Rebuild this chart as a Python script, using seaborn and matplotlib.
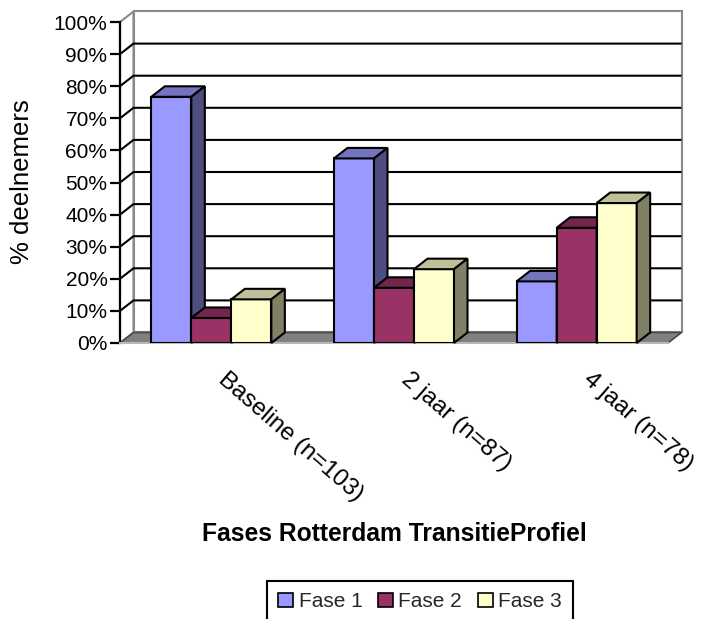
import numpy as np
import pandas as pd
import matplotlib
matplotlib.use("Agg")
import matplotlib.pyplot as plt
import matplotlib.colors as mcolors
from matplotlib.patches import Polygon, Patch
from matplotlib.transforms import ScaledTranslation
import seaborn as sns

# Percentage of participants per phase, per measurement moment
metingen = ["Baseline (n=103)", "2 jaar (n=87)", "4 jaar (n=78)"]
fases = ["Fase 1", "Fase 2", "Fase 3"]
fase1 = [76.7, 57.5, 19.2]
fase2 = [7.8, 17.2, 35.9]
fase3 = [13.6, 23.0, 43.6]
y_ticks = list(range(0, 101, 10))
y_tick_labels = [f"{v}%" for v in y_ticks]

front_colors = ["#9999FF", "#993366", "#FFFFCC"]

df = pd.DataFrame({
    "meting": metingen * 3,
    "fase": np.repeat(fases, len(metingen)),
    "pct": fase1 + fase2 + fase3,
})

sns.set_theme(style="white")
plt.rcParams["font.family"] = ["Liberation Sans", "DejaVu Sans"]

W, H, DPI = 702, 619, 100
fig = plt.figure(figsize=(W / DPI, H / DPI), dpi=DPI)
fig.patch.set_facecolor("white")

# front plane of the plot box, in pixels
left_px, right_px, bottom_px, top_px = 120, 668, 343, 22
ax = fig.add_axes([left_px / W, 1 - bottom_px / H,
                   (right_px - left_px) / W, (bottom_px - top_px) / H])
ax.set_facecolor("none")

sns.barplot(data=df, x="meting", y="pct", hue="fase", order=metingen,
            hue_order=fases, palette=front_colors, saturation=1,
            width=0.657, gap=0, edgecolor="black", linewidth=1.5,
            errorbar=None, legend=False, ax=ax)

ax.set_xlim(-0.5, 2.5)
ax.set_ylim(0, 100)

# oblique depth offset, converted from pixels to data units
DX, DY = 13.5, 10.5
p = ax.transData.transform([(0, 0), (1, 1)])
ddx = DX / (p[1, 0] - p[0, 0])
ddy = DY / (p[1, 1] - p[0, 1])
xa, xb = -0.5, 2.5

wall_edge = "#8a8a8a"
# side wall and back wall
ax.add_patch(Polygon([(xa, 0), (xa, 100), (xa + ddx, 100 + ddy), (xa + ddx, ddy)],
                     closed=True, facecolor="white", edgecolor=wall_edge, lw=1.5,
                     clip_on=False, zorder=0.6))
ax.add_patch(Polygon([(xa + ddx, ddy), (xb + ddx, ddy), (xb + ddx, 100 + ddy),
                      (xa + ddx, 100 + ddy)],
                     closed=True, facecolor="white", edgecolor=wall_edge, lw=1.5,
                     clip_on=False, zorder=0.6))
# gridlines running over both walls
for v in y_ticks[1:-1]:
    ax.plot([xa, xa + ddx, xb + ddx], [v, v + ddy, v + ddy], color="black",
            lw=1.5, clip_on=False, zorder=1, solid_capstyle="butt")
# floor
ax.add_patch(Polygon([(xa, 0), (xb, 0), (xb + ddx, ddy), (xa + ddx, ddy)],
                     closed=True, facecolor="#808080", edgecolor="#4a4a4a", lw=1.2,
                     clip_on=False, zorder=1.5))

# top and side faces for every bar, drawn left to right
rects = sorted([r for c in ax.containers for r in c], key=lambda r: r.get_x())


def shade(color, f):
    r, g, b = mcolors.to_rgb(color)
    return (r * f, g * f, b * f)


for i, r in enumerate(rects):
    x, w, h = r.get_x(), r.get_width(), r.get_height()
    fc = r.get_facecolor()
    z = 3 + i * 0.1
    r.set_zorder(z)
    r.set_joinstyle("miter")
    top = [(x, h), (x + w, h), (x + w + ddx, h + ddy), (x + ddx, h + ddy)]
    side = [(x + w, 0), (x + w + ddx, ddy), (x + w + ddx, h + ddy), (x + w, h)]
    ax.add_patch(Polygon(top, closed=True, facecolor=shade(fc, 0.75),
                         edgecolor="black", lw=1.5, joinstyle="miter",
                         clip_on=False, zorder=z + 0.01))
    ax.add_patch(Polygon(side, closed=True, facecolor=shade(fc, 0.5),
                         edgecolor="black", lw=1.5, joinstyle="miter",
                         clip_on=False, zorder=z + 0.02))

# spines
for s in ["top", "right"]:
    ax.spines[s].set_visible(False)
ax.spines["left"].set_color("black")
ax.spines["left"].set_linewidth(1.6)
ax.spines["left"].set_zorder(2)
ax.spines["bottom"].set_color("#b8b8b8")
ax.spines["bottom"].set_linewidth(1.5)
ax.spines["bottom"].set_zorder(2)

# y axis
ax.set_yticks(y_ticks, labels=y_tick_labels)
ax.tick_params(axis="y", left=True, direction="out", length=7, width=1.6,
               color="black", pad=2, labelsize=15, labelcolor="black")

# x axis: diagonal category labels
ax.set_xticks(range(len(metingen)), labels=metingen, rotation=-41, ha="left",
              va="top", rotation_mode="anchor", fontsize=17.5)
ax.tick_params(axis="x", which="major", bottom=False, length=0, pad=18,
               labelcolor="black")
shift = ScaledTranslation(17 / DPI, 0, fig.dpi_scale_trans)
for lbl in ax.get_xticklabels():
    lbl.set_transform(lbl.get_transform() + shift)
ax.set_xticks([0.5, 1.5], minor=True)
ax.tick_params(axis="x", which="minor", bottom=True, direction="in", length=3,
               width=1.5, color="#dcdcdc")
ax.set_xlabel("")
ax.set_ylabel("")

# axis titles
fig.text(22 / W, 1 - 182 / H, "% deelnemers", rotation=90, ha="center",
         va="center", fontsize=18.5, color="black")
fig.text(394.5 / W, 1 - 541 / H, "Fases Rotterdam TransitieProfiel",
         ha="center", va="baseline", fontsize=17.7, weight="bold", color="black")

# legend
handles = [Patch(facecolor=c, edgecolor="black", lw=1.2) for c in front_colors]
leg = fig.legend(handles, fases, loc="upper left",
                 bbox_to_anchor=(267 / W, 1 - 581 / H), ncol=3, frameon=True,
                 fontsize=15, handlelength=0.72, handleheight=0.67,
                 handletextpad=0.25, columnspacing=0.75, borderpad=0.55,
                 borderaxespad=0, fancybox=False, framealpha=1)
leg.get_frame().set_edgecolor("black")
leg.get_frame().set_linewidth(1.5)
leg.get_frame().set_facecolor("white")

fig.savefig("out.png", dpi=DPI)
